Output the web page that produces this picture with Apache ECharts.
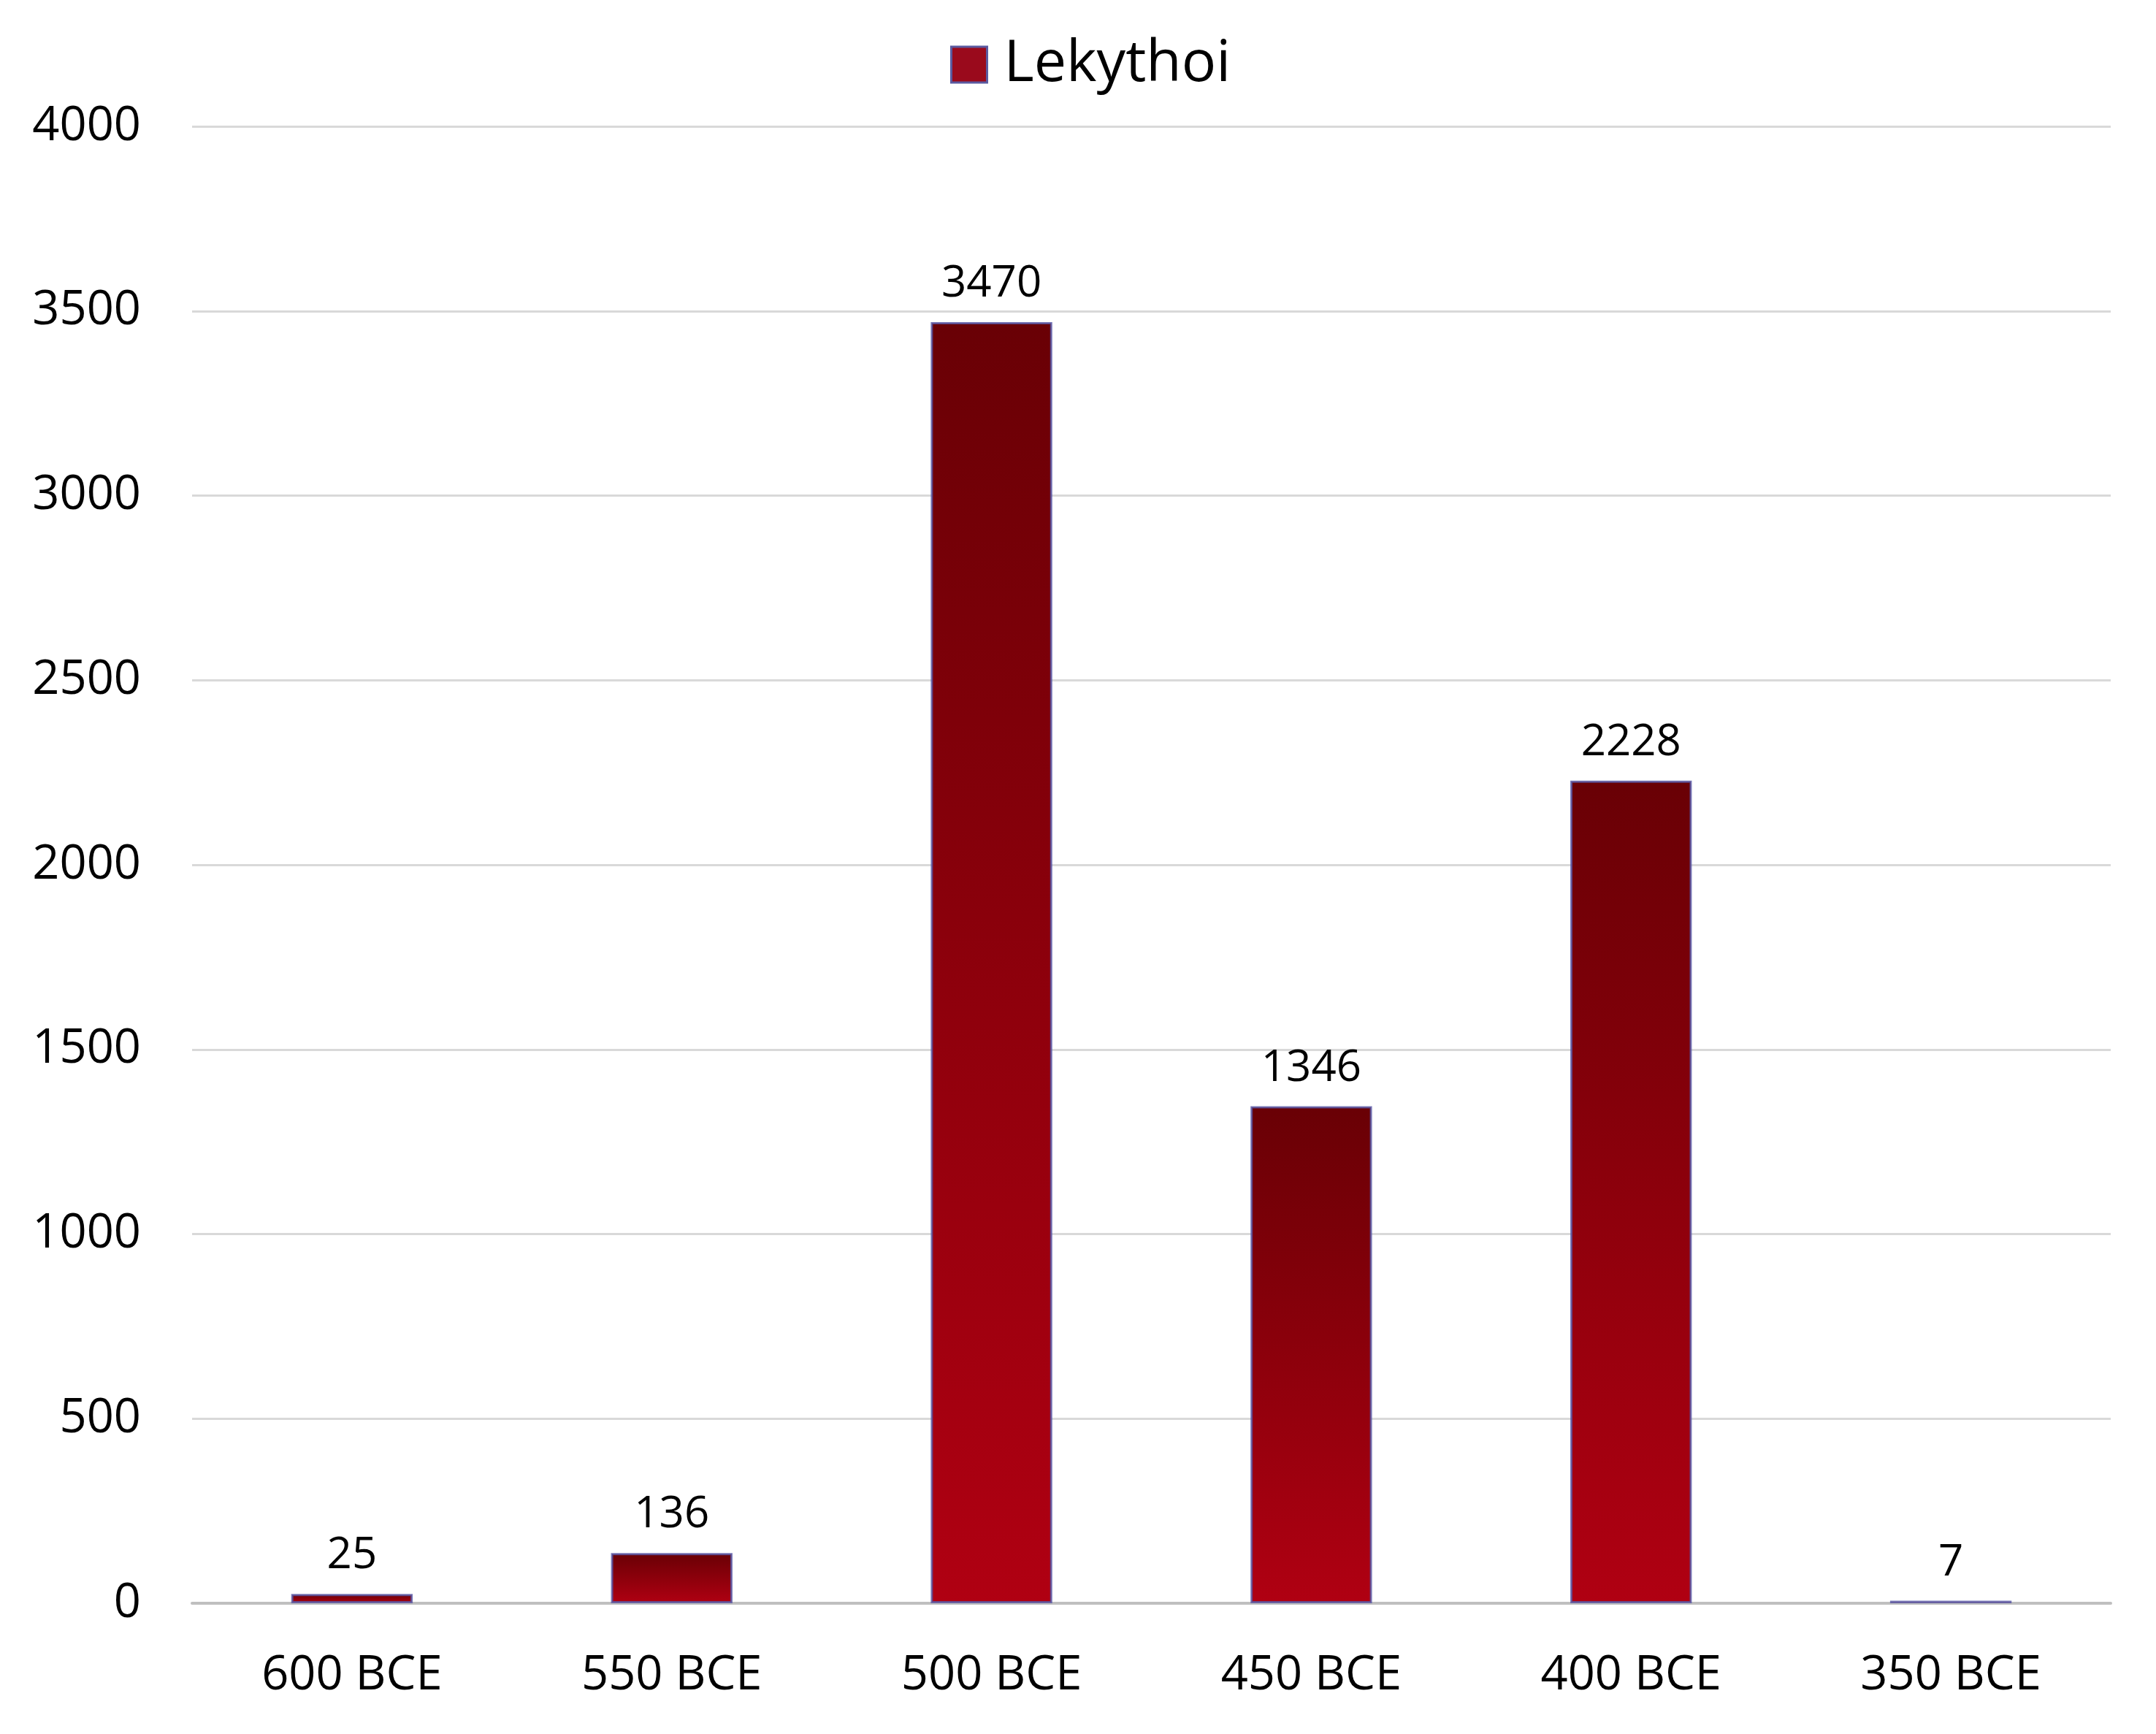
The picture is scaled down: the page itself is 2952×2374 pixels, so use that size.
<!DOCTYPE html>
<html>
<head>
<meta charset="utf-8">
<script src="https://cdn.jsdelivr.net/npm/echarts@6/dist/echarts.min.js"></script>
<style>html,body{margin:0;padding:0;background:#fff}#c{width:2952px;height:2374px}</style>
</head>
<body>
<div id="c"></div>
<script>
const categories = ['600 BCE', '550 BCE', '500 BCE', '450 BCE', '400 BCE', '350 BCE'];
const lekythoi = [25, 136, 3470, 1346, 2228, 7];
const seriesName = 'Lekythoi';

const FONT = '"Open Sans", "Noto Sans", sans-serif';
const chart = echarts.init(document.getElementById('c'));
const barGradient = new echarts.graphic.LinearGradient(0, 0, 0, 1, [
  { offset: 0, color: '#690005' },
  { offset: 1, color: '#b00012' }
]);
chart.setOption({
  backgroundColor: '#ffffff',
  animation: false,
  legend: {
    top: 44,
    left: 1296,
    icon: 'rect',
    itemWidth: 49,
    itemHeight: 49,
    itemGap: 20,
    textStyle: { fontFamily: FONT, fontSize: 79, color: '#000', padding: [0, 0, 0, 18] },
    data: [{ name: seriesName, itemStyle: { color: '#9a0a1c', borderColor: '#5a5aa0', borderWidth: 3 } }]
  },
  grid: { left: 263, right: 62, top: 173, bottom: 179, containLabel: false },
  xAxis: {
    type: 'category',
    data: categories,
    axisLine: { lineStyle: { color: '#bfbfbf', width: 4 } },
    axisTick: { show: false },
    axisLabel: { fontFamily: FONT, fontSize: 65, color: '#000', margin: 67 }
  },
  yAxis: {
    type: 'value',
    min: 0,
    max: 4000,
    interval: 500,
    axisLine: { show: false },
    axisTick: { show: false },
    splitLine: { lineStyle: { color: '#d9d9d9', width: 3 } },
    axisLabel: { fontFamily: FONT, fontSize: 65, color: '#000', margin: 70, formatter: v => String(v) }
  },
  series: [{
    name: seriesName,
    type: 'bar',
    data: lekythoi,
    barWidth: '38%',
    itemStyle: {
      color: barGradient,
      borderColor: 'rgba(85,85,165,0.8)',
      borderWidth: 3
    },
    label: {
      show: true,
      position: 'top',
      distance: 22,
      fontFamily: FONT,
      fontSize: 60,
      color: '#000'
    }
  }]
});
</script>
</body>
</html>
